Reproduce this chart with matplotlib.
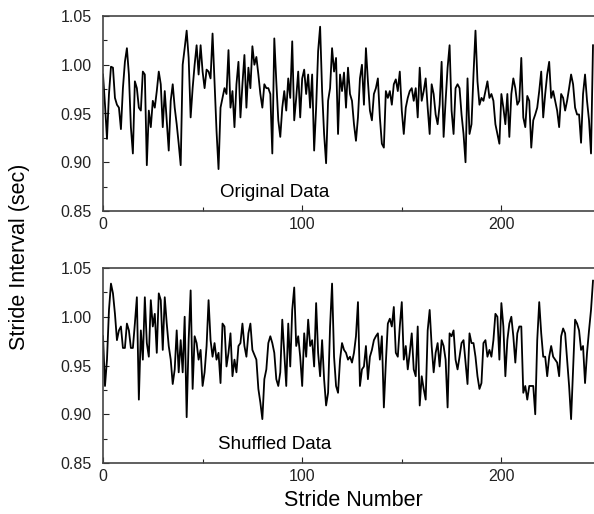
import matplotlib
matplotlib.use("Agg")
import matplotlib.pyplot as plt
from matplotlib.ticker import MultipleLocator, FormatStrFormatter

plt.rcParams['font.family'] = ['Liberation Sans', 'DejaVu Sans']

original = [
    0.990, 0.959, 0.924, 0.970, 0.998, 0.997, 0.966, 0.959, 0.956, 0.934,
    0.976, 1.003, 1.017, 0.990, 0.936, 0.909, 0.983, 0.976, 0.956, 0.953,
    0.993, 0.990, 0.897, 0.953, 0.936, 0.963, 0.956, 0.973, 0.993, 0.980,
    0.936, 0.973, 0.943, 0.912, 0.963, 0.980, 0.956, 0.939, 0.919, 0.897,
    1.000, 1.017, 1.035, 1.007, 0.946, 0.976, 1.000, 1.020, 0.990, 1.020,
    0.993, 0.976, 0.995, 0.993, 0.986, 1.032, 0.983, 0.932, 0.893, 0.956,
    0.966, 0.976, 0.970, 1.015, 0.956, 0.973, 0.936, 0.980, 1.003, 0.946,
    0.980, 1.010, 0.956, 0.997, 0.976, 1.019, 1.000, 1.008, 0.990, 0.970,
    0.956, 0.980, 0.976, 0.976, 0.970, 0.909, 1.027, 0.983, 0.943, 0.926,
    0.956, 0.973, 0.953, 0.986, 0.966, 1.024, 0.943, 0.966, 0.993, 0.946,
    0.986, 0.995, 0.970, 0.990, 0.956, 0.990, 0.912, 0.956, 1.014, 1.039,
    0.973, 0.929, 0.899, 0.963, 0.976, 1.017, 0.993, 1.007, 0.929, 0.990,
    0.973, 0.992, 0.956, 0.997, 0.970, 0.963, 0.939, 0.922, 0.946, 0.986,
    1.000, 0.959, 1.017, 0.983, 0.953, 0.943, 0.970, 0.976, 0.986, 0.946,
    0.919, 0.915, 0.973, 0.966, 0.973, 0.959, 0.980, 0.985, 0.973, 0.993,
    0.953, 0.929, 0.956, 0.966, 0.973, 0.976, 0.963, 0.976, 0.946, 0.997,
    0.963, 0.973, 0.986, 0.956, 0.929, 0.980, 0.970, 0.949, 0.939, 0.959,
    1.003, 0.926, 0.963, 0.997, 1.020, 0.953, 0.929, 0.976, 0.980, 0.976,
    0.949, 0.929, 0.900, 0.986, 0.929, 0.939, 0.990, 1.035, 0.983, 0.959,
    0.966, 0.963, 0.973, 0.983, 0.966, 0.970, 0.963, 0.939, 0.929, 0.919,
    0.970, 0.956, 0.939, 0.970, 0.926, 0.970, 0.986, 0.976, 0.959, 0.963,
    1.007, 0.946, 0.936, 0.968, 0.963, 0.915, 0.943, 0.949, 0.956, 0.973,
    0.993, 0.946, 0.970, 0.990, 1.003, 0.966, 0.973, 0.963, 0.953, 0.936,
    0.970, 0.966, 0.953, 0.963, 0.976, 0.990, 0.980, 0.956, 0.949, 0.949,
    0.920, 0.970, 0.990, 0.963, 0.943, 0.909, 1.020,
]

shuffled = [
    0.980, 0.929, 0.956, 1.007, 1.034, 1.024, 1.003, 0.976, 0.986, 0.990,
    0.968, 0.968, 0.993, 0.986, 0.968, 0.968, 0.993, 1.020, 0.915, 0.986,
    0.956, 1.020, 0.973, 0.959, 1.017, 0.990, 1.003, 0.963, 1.024, 1.017,
    0.966, 1.020, 0.993, 0.970, 0.956, 0.931, 0.946, 0.986, 0.943, 0.976,
    0.943, 1.000, 0.897, 0.976, 1.027, 0.926, 0.980, 0.973, 0.956, 0.966,
    0.929, 0.943, 0.970, 1.017, 0.976, 0.959, 0.973, 0.956, 0.963, 0.932,
    0.993, 0.990, 0.949, 0.963, 0.983, 0.939, 0.956, 0.943, 0.970, 0.973,
    0.993, 0.970, 0.959, 0.983, 0.993, 0.966, 0.961, 0.956, 0.926, 0.912,
    0.895, 0.936, 0.946, 0.973, 0.980, 0.973, 0.963, 0.936, 0.929, 0.943,
    0.997, 0.963, 0.929, 0.993, 0.949, 1.007, 1.030, 0.970, 0.980, 0.959,
    0.929, 0.983, 0.959, 0.997, 0.970, 0.976, 0.949, 1.014, 0.963, 0.939,
    0.976, 0.936, 0.909, 0.922, 0.990, 1.034, 0.959, 0.929, 0.922, 0.956,
    0.973, 0.966, 0.963, 0.956, 0.959, 0.953, 0.963, 0.980, 1.015, 0.929,
    0.946, 0.949, 0.970, 0.936, 0.959, 0.966, 0.976, 0.980, 0.983, 0.956,
    0.980, 0.907, 0.953, 0.993, 0.998, 0.990, 1.010, 0.963, 0.959, 0.990,
    1.015, 0.956, 0.970, 0.946, 0.963, 0.983, 0.946, 0.939, 0.990, 0.909,
    0.939, 0.926, 0.915, 0.986, 1.007, 0.970, 0.943, 0.963, 0.973, 0.949,
    0.976, 0.970, 0.956, 0.907, 0.983, 0.980, 0.986, 0.956, 0.946, 0.959,
    0.973, 0.976, 0.953, 0.931, 0.983, 0.973, 0.973, 0.959, 0.939, 0.926,
    0.932, 0.973, 0.976, 0.959, 0.966, 0.959, 0.976, 1.003, 1.000, 0.956,
    1.014, 0.990, 0.939, 0.976, 0.993, 1.000, 0.980, 0.953, 0.983, 0.990,
    0.990, 0.922, 0.929, 0.915, 0.929, 0.929, 0.929, 0.900, 0.976, 1.015,
    0.983, 0.959, 0.959, 0.939, 0.959, 0.970, 0.959, 0.956, 0.953, 0.939,
    0.980, 0.988, 0.983, 0.956, 0.929, 0.895, 0.946, 0.997, 0.993, 0.986,
    0.966, 0.970, 0.932, 0.963, 0.986, 1.007, 1.037,
]

x_ticks = [0, 100, 200]
y_ticks = [0.85, 0.90, 0.95, 1.00, 1.05]
panel_labels = ["Original Data", "Shuffled Data"]

fig = plt.figure(figsize=(5.94, 5.14), dpi=100)
left = 103 / 594
width = (594 - 103) / 594
h = 195 / 514
ax1 = fig.add_axes([left, 1 - 211 / 514, width, h])
ax2 = fig.add_axes([left, 1 - 463 / 514, width, h])

for ax, data, lab in zip([ax1, ax2], [original, shuffled], panel_labels):
    ax.plot(range(len(data)), data, color='black', lw=1.3)
    ax.set_xlim(0, 246.5)
    ax.set_ylim(0.85, 1.05)
    ax.set_xticks(x_ticks)
    ax.set_yticks(y_ticks)
    ax.xaxis.set_minor_locator(MultipleLocator(50))
    ax.yaxis.set_minor_locator(MultipleLocator(0.025))
    ax.yaxis.set_major_formatter(FormatStrFormatter('%.2f'))
    ax.tick_params(which='both', direction='in', labelsize=11.5, colors='#222222',
                   top=False, right=False)
    ax.tick_params(which='major', length=4, width=0.8)
    ax.tick_params(which='minor', length=3, width=0.8)
    ax.tick_params(axis='y', pad=8)
    ax.tick_params(axis='x', pad=4)
    for s in ['top', 'left', 'bottom']:
        ax.spines[s].set_color('#444444')
        ax.spines[s].set_linewidth(1.2)
    ax.spines['right'].set_visible(False)
    ax.text(86, 0.869, lab, ha='center', va='center', fontsize=13.5)

fig.text(0.032, 0.5, "Stride Interval (sec)", rotation=90, ha='center', va='center', fontsize=15.5)
fig.text(0.595, 0.027, "Stride Number", ha='center', va='center', fontsize=15.5)

fig.savefig("out.png", dpi=100)
